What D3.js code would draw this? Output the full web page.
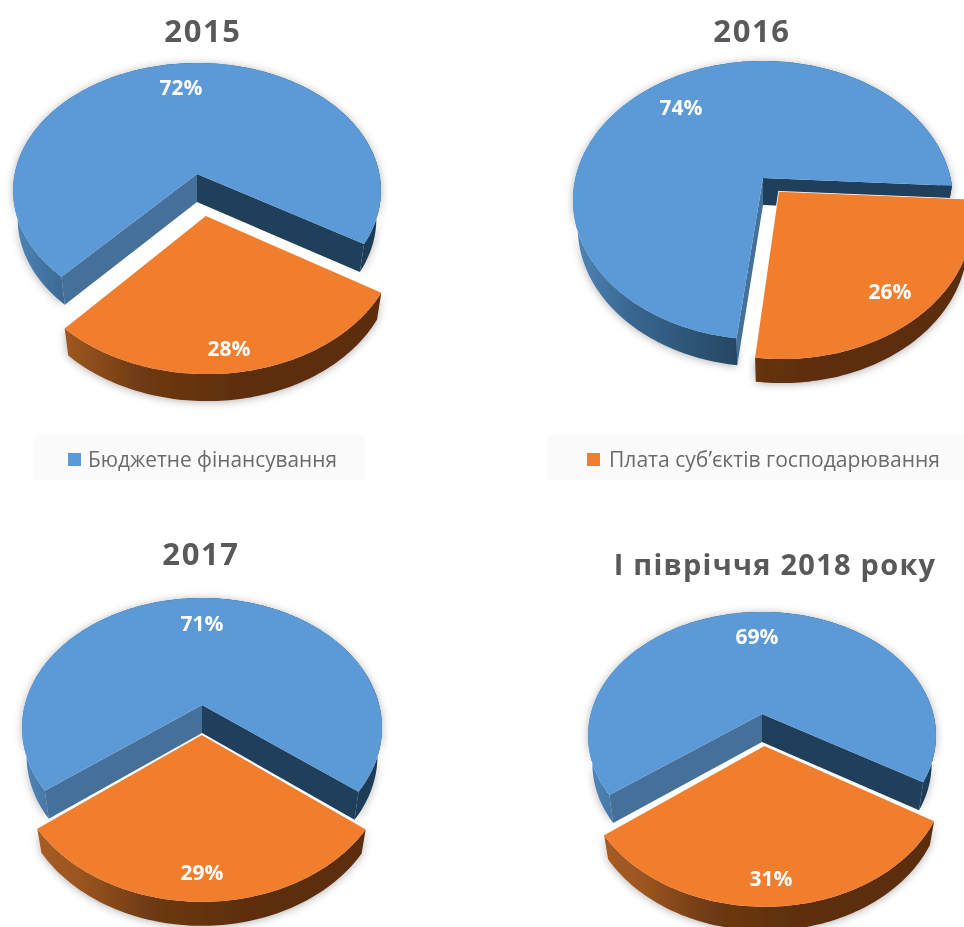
<!DOCTYPE html>
<html lang="uk">
<head>
<meta charset="utf-8">
<script src="https://cdn.jsdelivr.net/npm/d3@7"></script>
<style>
html,body{margin:0;padding:0;background:#fff;overflow:hidden}
svg{display:block;filter:blur(0.4px)}
text{font-family:"Open Sans","Noto Sans",sans-serif}
</style>
</head>
<body>
<svg id="chart" width="964" height="927"></svg>
<script>
// ---------- data ----------
const periods = ["2015", "2016", "2017", "І півріччя 2018 року"];
const budgetShare = [72, 74, 71, 69];
const feeShare = [28, 26, 29, 31];
const seriesNames = ["Бюджетне фінансування", "Плата суб’єктів господарювання"];

// ---------- layout ----------
const seriesColors = ["#5b9ad6", "#f07e2d"];
const titleX = [203, 752, 201, 775];
const titleY = [42, 42, 565, 575];
const titleSize = [31, 31, 31, 29];
const titleSpacing = [1.6, 1.6, 1.6, 1.25];
// apex x/y, horizontal and vertical plan scale, perspective, explosion, rotation (deg), wall depths
const cx = [197, 763, 202, 762];
const ay = [174, 178, 705, 714];
const planX = [182.4, 187.6, 177.2, 171.3];
const planY = [125.4, 135.7, 125.7, 119.9];
const persp = [0.13, 0.16, 0.175, 0.175];
const explode = [0.325, 0.13, 0.229, 0.255];
const rotation = [222.2, 186.8, 232.4, 232.8];
const depthBlue = [28, 27, 28, 28];
const depthOrange = [27, 24, 24, 24];
const wallInset = 0.975;
const labelBlue = [[181, 88], [681, 108], [202, 624], [757, 637]];
const labelOrange = [[229, 349], [890, 292], [202, 873], [771, 879]];
const legendBox = [[33, 435, 332, 45], [547, 435, 417, 45]];
const legendSwatch = [[68, 453], [587, 453]];
const legendText = [[88, 249], [609, 331]];

const svg = d3.select("#chart");
const defs = svg.append("defs");

function gradient(id, x1, x2, stops) {
  const g = defs.append("linearGradient").attr("id", id)
    .attr("gradientUnits", "userSpaceOnUse")
    .attr("x1", x1).attr("x2", x2).attr("y1", 0).attr("y2", 0);
  stops.forEach(s => g.append("stop").attr("offset", s[0]).attr("stop-color", s[1]));
}

const shadow = defs.append("filter").attr("id", "halo")
  .attr("x", "-10%").attr("y", "-10%").attr("width", "120%").attr("height", "120%");
shadow.append("feDropShadow").attr("dx", 0).attr("dy", 1)
  .attr("stdDeviation", 4).attr("flood-color", "#000").attr("flood-opacity", 0.3);

const line = d3.line().x(d => d[0]).y(d => d[1]);
const pieGen = d3.pie().sort(null).value(d => d);

function arcSamples(a0, a1) {
  const n = Math.max(2, Math.ceil(Math.abs(a1 - a0) / 0.02));
  return d3.range(n + 1).map(i => a0 + (a1 - a0) * i / n);
}

periods.forEach((title, i) => {
  const b = persp[i];
  gradient("wallBlue" + i, cx[i] - planX[i], cx[i] + planX[i],
    [[0, "#4f85b8"], [0.15, "#38668f"], [0.45, "#234660"], [1, "#1f3d58"]]);
  gradient("wallOrange" + i, cx[i] - planX[i], cx[i] + planX[i],
    [[0, "#a85e24"], [0.15, "#9c5620"], [0.35, "#6e3a12"], [0.6, "#5e2f0d"], [1, "#5a2d0c"]]);

  const project = (X, Y, z = 0) => {
    const s = 1 / (1 - b * Y);
    return [cx[i] + planX[i] * X * s, ay[i] + planY[i] * Y * s + z];
  };
  const start = rotation[i] * Math.PI / 180;
  const arcs = pieGen.startAngle(start).endAngle(start + 2 * Math.PI)([budgetShare[i], feeShare[i]]);
  const blue = arcs[0], orange = arcs[1];

  const mid = (orange.startAngle + orange.endAngle) / 2;
  const ox = explode[i] * Math.sin(mid), oy = -explode[i] * Math.cos(mid);
  const rim = (a, dx, dy, z, k = 1) => project(k * Math.sin(a) + dx, -Math.cos(a) + dy, z);

  // ---- blue slice ----
  const gBlue = svg.append("g");
  const dB = depthBlue[i];
  const blueAngles = arcSamples(blue.startAngle, blue.endAngle);
  const blueTop = blueAngles.map(a => rim(a, 0, 0, 0));
  const blueBot = blueAngles.map(a => rim(a, 0, 0, dB, wallInset));
  gBlue.append("path")
    .attr("d", line(blueTop.concat(blueBot.slice().reverse())) + "Z")
    .attr("fill", "url(#wallBlue" + i + ")")
    .attr("filter", "url(#halo)");
  const apexB = project(0, 0), apexB2 = project(0, 0, dB);
  const cut = (p, q, col) => gBlue.append("path")
    .attr("d", line([apexB, p, q, apexB2]) + "Z").attr("fill", col);
  cut(blueTop[0], blueBot[0], "#44709a");
  cut(blueTop[blueTop.length - 1], blueBot[blueBot.length - 1], "#203f5b");
  gBlue.append("path")
    .attr("d", line([apexB].concat(blueTop)) + "Z")
    .attr("fill", seriesColors[0]);

  // ---- orange slice ----
  const gOrange = svg.append("g");
  const dO = depthOrange[i];
  const oAngles = arcSamples(orange.startAngle, orange.endAngle);
  const oTop = oAngles.map(a => rim(a, ox, oy, 0));
  const oBot = oAngles.map(a => rim(a, ox, oy, dO, wallInset));
  const apexO = project(ox, oy);
  const oPath = line([apexO].concat(oTop)) + "Z";
  gOrange.append("path").attr("d", oPath)
    .attr("fill", "#fff").attr("stroke", "#fff").attr("stroke-width", 1.6);
  gOrange.append("path")
    .attr("d", line(oTop.concat(oBot.slice().reverse())) + "Z")
    .attr("fill", "url(#wallOrange" + i + ")")
    .attr("filter", "url(#halo)");
  gOrange.append("path").attr("d", oPath).attr("fill", seriesColors[1]);

  // ---- labels ----
  [[labelBlue[i], budgetShare[i]], [labelOrange[i], feeShare[i]]].forEach(([p, v]) => {
    svg.append("text").attr("x", p[0]).attr("y", p[1] + 7)
      .attr("text-anchor", "middle").attr("fill", "#fff")
      .attr("font-size", 21).attr("font-weight", 700)
      .text(v + "%");
  });

  // ---- title ----
  svg.append("text").attr("x", titleX[i]).attr("y", titleY[i])
    .attr("text-anchor", "middle").attr("fill", "#595959")
    .attr("font-size", titleSize[i]).attr("font-weight", 700)
    .attr("letter-spacing", titleSpacing[i])
    .text(title);
});

// ---------- legend ----------
seriesNames.forEach((name, i) => {
  const box = legendBox[i];
  svg.append("rect").attr("x", box[0]).attr("y", box[1])
    .attr("width", box[2]).attr("height", box[3]).attr("fill", "#fbfbfb");
  svg.append("rect").attr("x", legendSwatch[i][0]).attr("y", legendSwatch[i][1])
    .attr("width", 13).attr("height", 13).attr("fill", seriesColors[i]);
  svg.append("text").attr("x", legendText[i][0]).attr("y", 467)
    .attr("fill", "#6b6b6b").attr("font-size", 22)
    .attr("textLength", legendText[i][1]).attr("lengthAdjust", "spacingAndGlyphs")
    .text(name);
});
</script>
</body>
</html>
